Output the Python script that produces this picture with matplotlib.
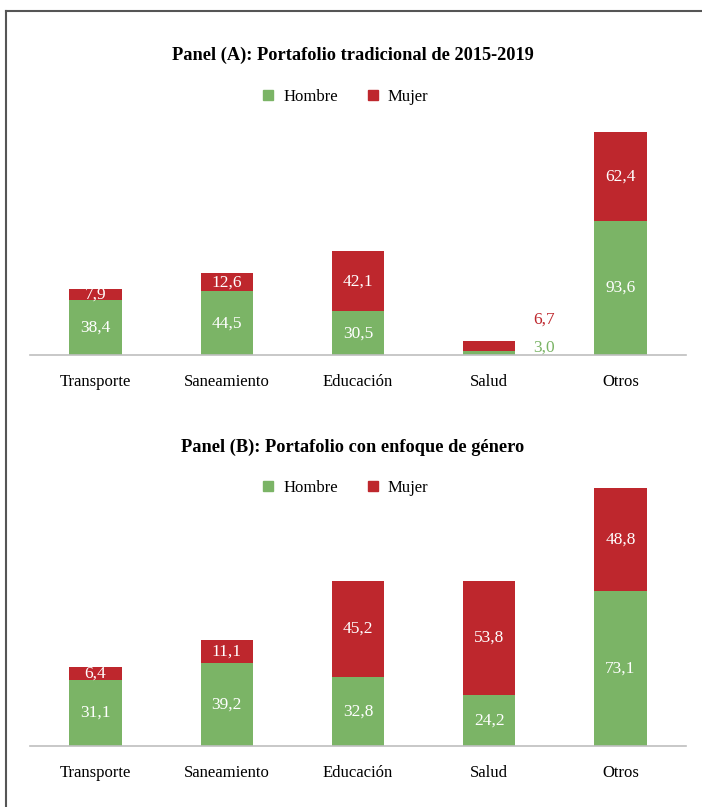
import matplotlib.pyplot as plt
from matplotlib.lines import Line2D
from matplotlib.patches import Patch

categorias = ['Transporte', 'Saneamiento', 'Educación', 'Salud', 'Otros']
hombre_a = [38.4, 44.5, 30.5, 3.0, 93.6]
mujer_a = [7.9, 12.6, 42.1, 6.7, 62.4]
hombre_b = [31.1, 39.2, 32.8, 24.2, 73.1]
mujer_b = [6.4, 11.1, 45.2, 53.8, 48.8]

VERDE = '#7BB466'
ROJO = '#BE272D'
plt.rcParams['font.family'] = ['Liberation Serif', 'DejaVu Serif']

W, H = 702, 807
fig = plt.figure(figsize=(W / 100, H / 100), dpi=100)


def px_axes(top, bottom):
    return fig.add_axes([30 / W, (H - bottom) / H, 656 / W, (bottom - top) / H])


def draw_panel(ax, hombre, mujer, ymax, fuera=None):
    x = range(len(categorias))
    ax.bar(x, hombre, width=0.4, color=VERDE)
    ax.bar(x, mujer, width=0.4, bottom=hombre, color=ROJO)
    for i, (h, m) in enumerate(zip(hombre, mujer)):
        if i == fuera:
            # small bar: labels placed to the right
            ax.text(i + 0.42, h + 2.0, f'{h:.1f}'.replace('.', ','), color=VERDE,
                    ha='center', va='center', fontsize=12.5)
            ax.text(i + 0.42, h + m + 14.8, f'{m:.1f}'.replace('.', ','), color=ROJO,
                    ha='center', va='center', fontsize=12.5)
            continue
        ax.text(i, h / 2, f'{h:.1f}'.replace('.', ','), color='white',
                ha='center', va='center', fontsize=12.5)
        ax.text(i, h + m / 2, f'{m:.1f}'.replace('.', ','), color='white',
                ha='center', va='center', fontsize=12.5)
    ax.set_xlim(-0.5, len(categorias) - 0.5)
    ax.set_ylim(0, ymax)
    ax.set_xticks(list(x))
    ax.set_xticklabels(categorias, fontsize=12)
    ax.tick_params(axis='x', length=0, pad=14)
    ax.set_yticks([])
    for s in ['top', 'right', 'left']:
        ax.spines[s].set_visible(False)
    ax.spines['bottom'].set_color('#BFBFBF')
    ax.spines['bottom'].set_linewidth(1.2)


ax1 = px_axes(120, 355)
draw_panel(ax1, hombre_a, mujer_a, 235 / 1.43, fuera=3)
ax2 = px_axes(470, 746)
draw_panel(ax2, hombre_b, mujer_b, 276 / 2.117)

# Titles and legends
handles = [Patch(color=VERDE, label='Hombre'), Patch(color=ROJO, label='Mujer')]
for ytit, yleg, titulo in [(55, 97, 'Panel (A): Portafolio tradicional de 2015-2019'),
                           (447, 488, 'Panel (B): Portafolio con enfoque de género')]:
    fig.text(353 / W, 1 - ytit / H, titulo, ha='center', va='center',
             fontsize=13.2, fontweight='bold')
    fig.legend(handles=handles, loc='center', bbox_to_anchor=(346 / W, 1 - yleg / H),
               ncol=2, frameon=False, fontsize=12, handlelength=0.6, handleheight=0.6,
               handletextpad=0.6, columnspacing=1.8)

# Frame lines (top and left)
fig.add_artist(Line2D([6 / W, 1], [1 - 11 / H, 1 - 11 / H], color='#555555', lw=1.5))
fig.add_artist(Line2D([6 / W, 6 / W], [0, 1 - 11 / H], color='#555555', lw=1.5))

plt.savefig('out.png', dpi=100)
